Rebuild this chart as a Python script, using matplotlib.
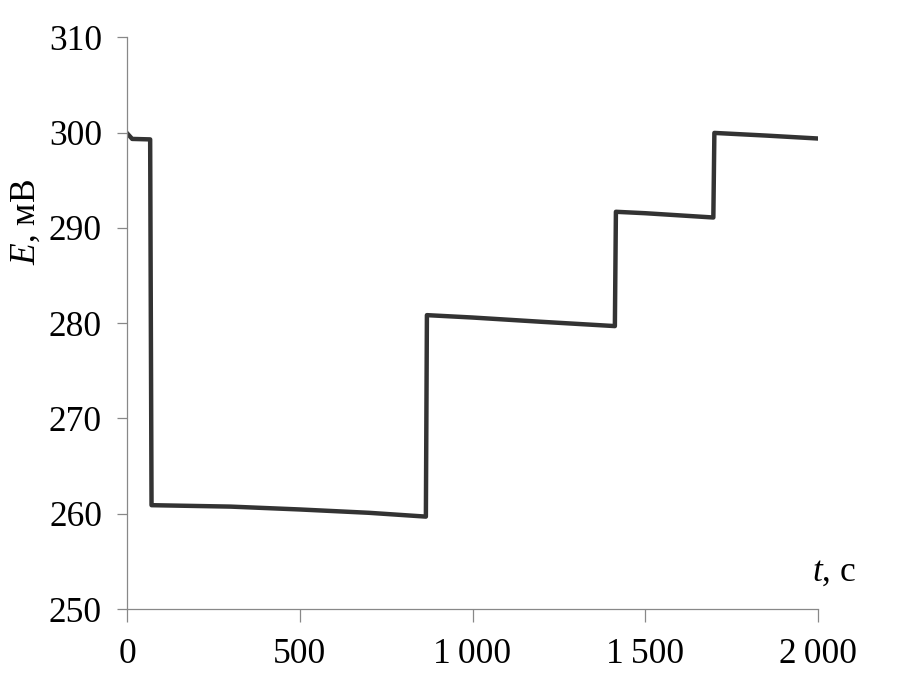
import matplotlib
matplotlib.use("Agg")
import matplotlib.pyplot as plt

plt.rcParams['font.family'] = ['Liberation Serif', 'DejaVu Serif']
plt.rcParams['mathtext.fontset'] = 'custom'
plt.rcParams['mathtext.rm'] = 'Liberation Serif'
plt.rcParams['mathtext.it'] = 'Liberation Serif:italic'

# time (s) and potential (mV)
t = [0, 15, 67, 71, 300, 500, 700, 865, 868, 1000, 1200, 1412, 1415, 1500, 1697, 1700, 1850, 1996]
E = [299.95, 299.35, 299.3, 260.9, 260.75, 260.45, 260.1, 259.7, 280.85, 280.6, 280.15, 279.7, 291.7, 291.55, 291.1, 299.98, 299.7, 299.4]

xticks = [0, 500, 1000, 1500, 2000]
xtick_labels = ["0", "500", "1\u2009000", "1\u2009500", "2\u2009000"]
yticks = [250, 260, 270, 280, 290, 300, 310]

fig = plt.figure(figsize=(9.21, 6.8), dpi=100)
ax = fig.add_axes([0.1379, 0.1044, 0.7503, 0.8405])

ax.plot(t, E, color="#333333", lw=3.2, solid_joinstyle="round")

ax.set_xlim(0, 2000)
ax.set_ylim(250, 310)
ax.set_xticks(xticks)
ax.set_xticklabels(xtick_labels)
ax.set_yticks(yticks)

for s in ["top", "right"]:
    ax.spines[s].set_visible(False)
for s in ["left", "bottom"]:
    ax.spines[s].set_color("#888888")
    ax.spines[s].set_linewidth(0.9)

ax.tick_params(axis="y", direction="out", length=7, width=0.9, color="#888888",
               labelsize=25.5, pad=11)
ax.tick_params(axis="x", direction="out", length=9, width=0.9, color="#888888",
               labelsize=25.5, pad=12)

fig.text(0.029, 1 - 222 / 680, r"$\mathit{E}$, мВ", rotation=90, fontsize=25.5,
         ha="center", va="center")
fig.text(812 / 921, 1 - 581 / 680, r"$\mathit{t}$, с", fontsize=25.5,
         ha="left", va="baseline")

fig.savefig("out.png", dpi=100)
